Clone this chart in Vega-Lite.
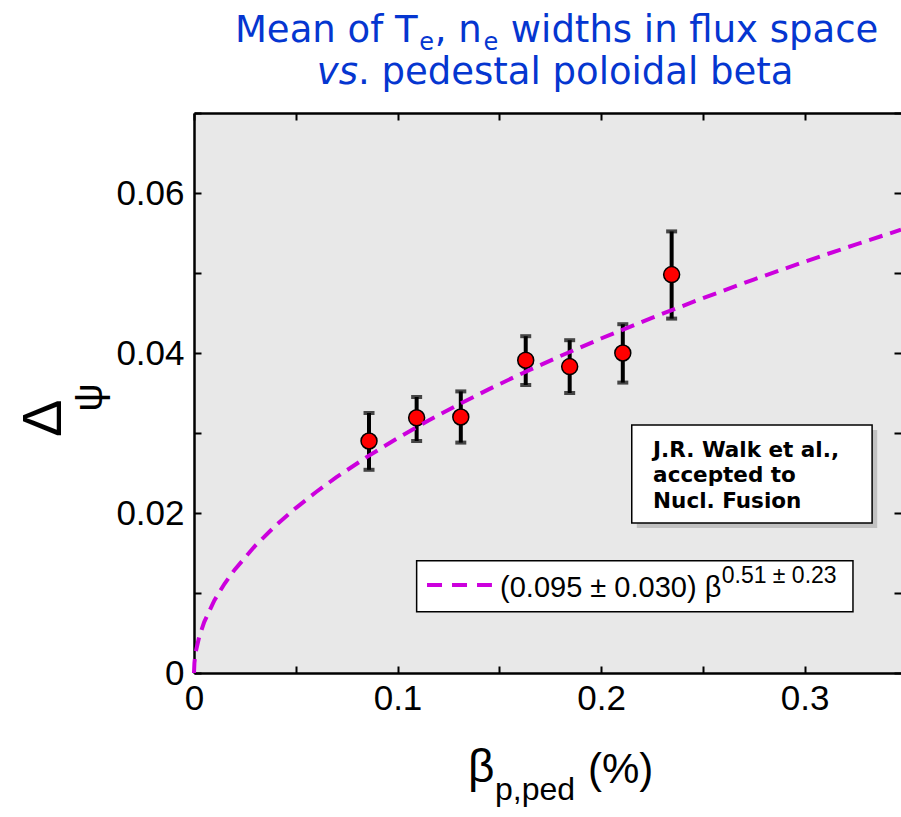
{
  "$schema": "https://vega.github.io/schema/vega-lite/v6.json",
  "width": 707,
  "height": 560,
  "autosize": {"type": "none"},
  "padding": {"left": 194, "top": 113, "right": 0, "bottom": 144},
  "background": "white",
  "config": {
    "view": {"fill": "#e8e8e8", "stroke": null},
    "axis": {"grid": false, "title": null}
  },
  "datasets": {
    "points": [
      {"beta": 0.0860, "dpsi": 0.0290, "lo": 0.0254, "hi": 0.0325},
      {"beta": 0.1094, "dpsi": 0.0319, "lo": 0.0290, "hi": 0.0345},
      {"beta": 0.1311, "dpsi": 0.0320, "lo": 0.0288, "hi": 0.0352},
      {"beta": 0.1630, "dpsi": 0.0391, "lo": 0.0360, "hi": 0.0421},
      {"beta": 0.1846, "dpsi": 0.0383, "lo": 0.0350, "hi": 0.0416},
      {"beta": 0.2107, "dpsi": 0.0400, "lo": 0.0363, "hi": 0.0436},
      {"beta": 0.2347, "dpsi": 0.0498, "lo": 0.0443, "hi": 0.0552}
    ],
    "fit": [
      {"beta": 0, "fit": 0},
      {"beta": 0.0002, "fit": 0.001234},
      {"beta": 0.0005, "fit": 0.001969},
      {"beta": 0.001, "fit": 0.002803},
      {"beta": 0.0025, "fit": 0.004474},
      {"beta": 0.005, "fit": 0.006372},
      {"beta": 0.01, "fit": 0.009073},
      {"beta": 0.015, "fit": 0.011158},
      {"beta": 0.02, "fit": 0.012920},
      {"beta": 0.03, "fit": 0.015887},
      {"beta": 0.04, "fit": 0.018400},
      {"beta": 0.05, "fit": 0.020616},
      {"beta": 0.06, "fit": 0.022627},
      {"beta": 0.07, "fit": 0.024476},
      {"beta": 0.085, "fit": 0.027019},
      {"beta": 0.1, "fit": 0.029358},
      {"beta": 0.115, "fit": 0.031531},
      {"beta": 0.13, "fit": 0.033562},
      {"beta": 0.145, "fit": 0.035484},
      {"beta": 0.16, "fit": 0.037311},
      {"beta": 0.18, "fit": 0.039621},
      {"beta": 0.2, "fit": 0.041808},
      {"beta": 0.225, "fit": 0.044394},
      {"beta": 0.25, "fit": 0.046851},
      {"beta": 0.275, "fit": 0.049180},
      {"beta": 0.3, "fit": 0.051410},
      {"beta": 0.325, "fit": 0.053552},
      {"beta": 0.3474, "fit": 0.055406}
    ],
    "one": [{"id": 1}]
  },
  "layer": [
    {
      "data": {"name": "points"},
      "mark": {"type": "rule", "color": "black", "strokeWidth": 4},
      "encoding": {
        "x": {"field": "beta", "type": "quantitative", "scale": {"domain": [0, 0.3474], "nice": false, "zero": false},
          "axis": {"orient": "bottom", "values": [0, 0.05, 0.1, 0.15, 0.2, 0.25, 0.3], "format": "~g",
            "labelExpr": "round(datum.value*100) % 10 == 0 ? datum.label : ''",
            "domainColor": "black", "domainWidth": 2.5, "tickColor": "black", "tickWidth": 2, "tickSize": -7,
            "labelPadding": 15, "labelFont": "Liberation Sans", "labelFontSize": 35, "labelColor": "black",
            "labelOverlap": false, "labelFlush": false, "labelBound": false}},
        "y": {"field": "lo", "type": "quantitative", "scale": {"domain": [0, 0.07], "nice": false, "zero": false},
          "axis": {"orient": "left", "values": [0, 0.01, 0.02, 0.03, 0.04, 0.05, 0.06, 0.07], "format": "~g",
            "labelExpr": "round(datum.value*100) % 2 == 0 ? datum.label : ''",
            "domainColor": "black", "domainWidth": 2.5, "tickColor": "black", "tickWidth": 2, "tickSize": -7,
            "labelPadding": 17, "labelFont": "Liberation Sans", "labelFontSize": 35, "labelColor": "black",
            "labelOverlap": false, "labelFlush": false, "labelBound": false}},
        "y2": {"field": "hi"}
      }
    },
    {
      "data": {"name": "points"},
      "mark": {"type": "tick", "color": "black", "orient": "horizontal", "size": 11, "thickness": 4},
      "encoding": {
        "x": {"field": "beta", "type": "quantitative", "scale": {"domain": [0, 0.3474], "nice": false, "zero": false},
          "axis": {"orient": "top", "values": [0, 0.05, 0.1, 0.15, 0.2, 0.25, 0.3], "labels": false,
            "domainColor": "black", "domainWidth": 2.5, "tickColor": "black", "tickWidth": 2, "tickSize": -7}},
        "y": {"field": "lo", "type": "quantitative", "scale": {"domain": [0, 0.07], "nice": false, "zero": false},
          "axis": {"orient": "right", "values": [0, 0.01, 0.02, 0.03, 0.04, 0.05, 0.06, 0.07], "labels": false,
            "domain": false, "tickColor": "black", "tickWidth": 2, "tickSize": -7}}
      }
    },
    {
      "data": {"name": "points"},
      "mark": {"type": "tick", "color": "black", "orient": "horizontal", "size": 11, "thickness": 4},
      "encoding": {
        "x": {"field": "beta", "type": "quantitative", "scale": {"domain": [0, 0.3474], "nice": false, "zero": false}, "axis": null},
        "y": {"field": "hi", "type": "quantitative", "scale": {"domain": [0, 0.07], "nice": false, "zero": false}, "axis": null}
      }
    },
    {
      "data": {"name": "points"},
      "mark": {"type": "point", "shape": "circle", "filled": true, "fill": "#ff0000", "stroke": "black", "strokeWidth": 1.5, "size": 255, "opacity": 1},
      "encoding": {
        "x": {"field": "beta", "type": "quantitative", "scale": {"domain": [0, 0.3474], "nice": false, "zero": false}, "axis": null},
        "y": {"field": "dpsi", "type": "quantitative", "scale": {"domain": [0, 0.07], "nice": false, "zero": false}, "axis": null}
      }
    },
    {
      "data": {"name": "fit"},
      "mark": {"type": "line", "color": "#cc00dd", "strokeWidth": 4, "strokeDash": [14, 8]},
      "encoding": {
        "x": {"field": "beta", "type": "quantitative", "scale": {"domain": [0, 0.3474], "nice": false, "zero": false}, "axis": null},
        "y": {"field": "fit", "type": "quantitative", "scale": {"domain": [0, 0.07], "nice": false, "zero": false}, "axis": null}
      }
    },
    {
      "data": {"name": "one"},
      "mark": {"type": "rect", "fill": "#999999", "opacity": 0.5},
      "encoding": {
        "x": {"datum": 0.2176, "type": "quantitative", "scale": {"domain": [0, 0.3474], "nice": false, "zero": false}, "axis": null},
        "x2": {"datum": 0.3357},
        "y": {"datum": 0.01812, "type": "quantitative", "scale": {"domain": [0, 0.07], "nice": false, "zero": false}, "axis": null},
        "y2": {"datum": 0.03038}
      }
    },
    {
      "data": {"name": "one"},
      "mark": {"type": "rect", "fill": "white", "stroke": "black", "strokeWidth": 1.5},
      "encoding": {
        "x": {"datum": 0.2151, "type": "quantitative", "scale": {"domain": [0, 0.3474], "nice": false, "zero": false}, "axis": null},
        "x2": {"datum": 0.3332},
        "y": {"datum": 0.01875, "type": "quantitative", "scale": {"domain": [0, 0.07], "nice": false, "zero": false}, "axis": null},
        "y2": {"datum": 0.0310}
      }
    },
    {
      "data": {"name": "one"},
      "mark": {"type": "text", "font": "DejaVu Sans", "fontWeight": "bold", "fontSize": 21.5, "align": "left", "baseline": "alphabetic", "lineHeight": 25.5, "color": "black"},
      "encoding": {
        "x": {"datum": 0.2256, "type": "quantitative", "scale": {"domain": [0, 0.3474], "nice": false, "zero": false}, "axis": null},
        "y": {"datum": 0.02704, "type": "quantitative", "scale": {"domain": [0, 0.07], "nice": false, "zero": false}, "axis": null},
        "text": {"value": ["J.R. Walk et al.,", "accepted to", "Nucl. Fusion"]}
      }
    },
    {
      "data": {"name": "one"},
      "mark": {"type": "rect", "fill": "white", "stroke": "black", "strokeWidth": 1.5},
      "encoding": {
        "x": {"datum": 0.1094, "type": "quantitative", "scale": {"domain": [0, 0.3474], "nice": false, "zero": false}, "axis": null},
        "x2": {"datum": 0.3238},
        "y": {"datum": 0.00766, "type": "quantitative", "scale": {"domain": [0, 0.07], "nice": false, "zero": false}, "axis": null},
        "y2": {"datum": 0.01404}
      }
    },
    {
      "data": {"name": "one"},
      "mark": {"type": "rule", "color": "#cc00dd", "strokeWidth": 4, "strokeDash": [15, 10]},
      "encoding": {
        "x": {"datum": 0.1145, "type": "quantitative", "scale": {"domain": [0, 0.3474], "nice": false, "zero": false}, "axis": null},
        "x2": {"datum": 0.1464},
        "y": {"datum": 0.0110, "type": "quantitative", "scale": {"domain": [0, 0.07], "nice": false, "zero": false}, "axis": null}
      }
    },
    {
      "data": {"name": "one"},
      "mark": {"type": "text", "font": "Liberation Sans", "fontSize": 29, "align": "left", "baseline": "alphabetic", "color": "black"},
      "encoding": {
        "x": {"datum": 0.1504, "type": "quantitative", "scale": {"domain": [0, 0.3474], "nice": false, "zero": false}, "axis": null},
        "y": {"datum": 0.0095, "type": "quantitative", "scale": {"domain": [0, 0.07], "nice": false, "zero": false}, "axis": null},
        "text": {"value": "(0.095 ± 0.030) β"}
      }
    },
    {
      "data": {"name": "one"},
      "mark": {"type": "text", "font": "Liberation Sans", "fontSize": 23, "align": "left", "baseline": "alphabetic", "color": "black"},
      "encoding": {
        "x": {"datum": 0.2593, "type": "quantitative", "scale": {"domain": [0, 0.3474], "nice": false, "zero": false}, "axis": null},
        "y": {"datum": 0.01125, "type": "quantitative", "scale": {"domain": [0, 0.07], "nice": false, "zero": false}, "axis": null},
        "text": {"value": "0.51 ± 0.23"}
      }
    },
    {
      "data": {"name": "one"},
      "mark": {"type": "text", "font": "Liberation Sans", "fontSize": 46, "align": "left", "baseline": "alphabetic", "color": "black"},
      "encoding": {
        "x": {"datum": 0.1346, "type": "quantitative", "scale": {"domain": [0, 0.3474], "nice": false, "zero": false}, "axis": null},
        "y": {"datum": -0.013625, "type": "quantitative", "scale": {"domain": [0, 0.07], "nice": false, "zero": false}, "axis": null},
        "text": {"value": "β"}
      }
    },
    {
      "data": {"name": "one"},
      "mark": {"type": "text", "font": "Liberation Sans", "fontSize": 32, "align": "left", "baseline": "alphabetic", "color": "black"},
      "encoding": {
        "x": {"datum": 0.1479, "type": "quantitative", "scale": {"domain": [0, 0.3474], "nice": false, "zero": false}, "axis": null},
        "y": {"datum": -0.015875, "type": "quantitative", "scale": {"domain": [0, 0.07], "nice": false, "zero": false}, "axis": null},
        "text": {"value": "p,ped"}
      }
    },
    {
      "data": {"name": "one"},
      "mark": {"type": "text", "font": "Liberation Sans", "fontSize": 42, "align": "left", "baseline": "alphabetic", "color": "black"},
      "encoding": {
        "x": {"datum": 0.1936, "type": "quantitative", "scale": {"domain": [0, 0.3474], "nice": false, "zero": false}, "axis": null},
        "y": {"datum": -0.01375, "type": "quantitative", "scale": {"domain": [0, 0.07], "nice": false, "zero": false}, "axis": null},
        "text": {"value": "(%)"}
      }
    },
    {
      "data": {"name": "one"},
      "mark": {"type": "text", "font": "Liberation Sans", "fontSize": 56, "angle": 270, "align": "left", "baseline": "alphabetic", "color": "black"},
      "encoding": {
        "x": {"datum": -0.0654, "type": "quantitative", "scale": {"domain": [0, 0.3474], "nice": false, "zero": false}, "axis": null},
        "y": {"datum": 0.0295, "type": "quantitative", "scale": {"domain": [0, 0.07], "nice": false, "zero": false}, "axis": null},
        "text": {"value": "Δ"}
      }
    },
    {
      "data": {"name": "one"},
      "mark": {"type": "text", "font": "Liberation Sans", "fontSize": 40, "angle": 270, "align": "left", "baseline": "alphabetic", "color": "black"},
      "encoding": {
        "x": {"datum": -0.0452, "type": "quantitative", "scale": {"domain": [0, 0.3474], "nice": false, "zero": false}, "axis": null},
        "y": {"datum": 0.03265, "type": "quantitative", "scale": {"domain": [0, 0.07], "nice": false, "zero": false}, "axis": null},
        "text": {"value": "ψ"}
      }
    },
    {
      "data": {"name": "one"},
      "mark": {"type": "text", "font": "DejaVu Sans", "fontSize": 37, "align": "left", "baseline": "alphabetic", "color": "#0536d0"},
      "encoding": {
        "x": {"datum": 0.02012, "type": "quantitative", "scale": {"domain": [0, 0.3474], "nice": false, "zero": false}, "axis": null},
        "y": {"datum": 0.078875, "type": "quantitative", "scale": {"domain": [0, 0.07], "nice": false, "zero": false}, "axis": null},
        "text": {"value": "Mean of T"}
      }
    },
    {
      "data": {"name": "one"},
      "mark": {"type": "text", "font": "DejaVu Sans", "fontSize": 24, "align": "left", "baseline": "alphabetic", "color": "#0536d0"},
      "encoding": {
        "x": {"datum": 0.11065, "type": "quantitative", "scale": {"domain": [0, 0.3474], "nice": false, "zero": false}, "axis": null},
        "y": {"datum": 0.077875, "type": "quantitative", "scale": {"domain": [0, 0.07], "nice": false, "zero": false}, "axis": null},
        "text": {"value": "e"}
      }
    },
    {
      "data": {"name": "one"},
      "mark": {"type": "text", "font": "DejaVu Sans", "fontSize": 37, "align": "left", "baseline": "alphabetic", "color": "#0536d0"},
      "encoding": {
        "x": {"datum": 0.11832, "type": "quantitative", "scale": {"domain": [0, 0.3474], "nice": false, "zero": false}, "axis": null},
        "y": {"datum": 0.078875, "type": "quantitative", "scale": {"domain": [0, 0.07], "nice": false, "zero": false}, "axis": null},
        "text": {"value": ", n"}
      }
    },
    {
      "data": {"name": "one"},
      "mark": {"type": "text", "font": "DejaVu Sans", "fontSize": 24, "align": "left", "baseline": "alphabetic", "color": "#0536d0"},
      "encoding": {
        "x": {"datum": 0.14222, "type": "quantitative", "scale": {"domain": [0, 0.3474], "nice": false, "zero": false}, "axis": null},
        "y": {"datum": 0.077875, "type": "quantitative", "scale": {"domain": [0, 0.07], "nice": false, "zero": false}, "axis": null},
        "text": {"value": "e"}
      }
    },
    {
      "data": {"name": "one"},
      "mark": {"type": "text", "font": "DejaVu Sans", "fontSize": 37, "align": "left", "baseline": "alphabetic", "color": "#0536d0"},
      "encoding": {
        "x": {"datum": 0.15569, "type": "quantitative", "scale": {"domain": [0, 0.3474], "nice": false, "zero": false}, "axis": null},
        "y": {"datum": 0.078875, "type": "quantitative", "scale": {"domain": [0, 0.07], "nice": false, "zero": false}, "axis": null},
        "text": {"value": "widths in flux space"}
      }
    },
    {
      "data": {"name": "one"},
      "mark": {"type": "text", "font": "DejaVu Sans", "fontSize": 37, "fontStyle": "italic", "align": "right", "baseline": "alphabetic", "color": "#0536d0"},
      "encoding": {
        "x": {"datum": 0.0806, "type": "quantitative", "scale": {"domain": [0, 0.3474], "nice": false, "zero": false}, "axis": null},
        "y": {"datum": 0.073625, "type": "quantitative", "scale": {"domain": [0, 0.07], "nice": false, "zero": false}, "axis": null},
        "text": {"value": "vs"}
      }
    },
    {
      "data": {"name": "one"},
      "mark": {"type": "text", "font": "DejaVu Sans", "fontSize": 37, "align": "left", "baseline": "alphabetic", "color": "#0536d0"},
      "encoding": {
        "x": {"datum": 0.0806, "type": "quantitative", "scale": {"domain": [0, 0.3474], "nice": false, "zero": false}, "axis": null},
        "y": {"datum": 0.073625, "type": "quantitative", "scale": {"domain": [0, 0.07], "nice": false, "zero": false}, "axis": null},
        "text": {"value": ". pedestal poloidal beta"}
      }
    }
  ],
  "resolve": {"axis": {"x": "independent", "y": "independent"}}
}
